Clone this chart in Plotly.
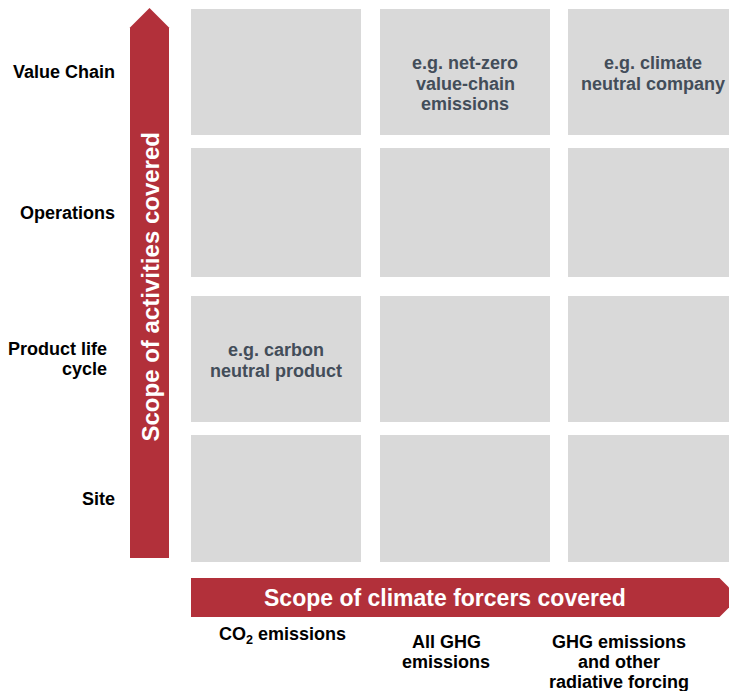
import plotly.graph_objects as go

# ---------------- data ----------------
activity_scopes = ["Value Chain", "Operations", "Product life<br>cycle", "Site"]
forcer_scopes = ["CO<sub>2</sub> emissions", "All GHG<br>emissions",
                 "GHG emissions<br>and other<br>radiative forcing"]
example_rows = [0, 0, 2]
example_cols = [1, 2, 0]
example_texts = ["e.g. net-zero<br>value-chain<br>emissions",
                 "e.g. climate<br>neutral company",
                 "e.g. carbon<br>neutral product"]
y_arrow_title = "Scope of activities covered"
x_arrow_title = "Scope of climate forcers covered"

# ---------------- layout geometry (pixels of the window) ----------------
W, H = 729, 691
col_left = [191, 380, 568]
col_right = [361, 550, 737]
row_top = [9, 148, 296, 435]
row_bottom = [135, 277, 422, 562]
row_label_right = [117, 117, 109, 117]
bottom_label_x = [282, 446, 619]
bottom_label_y0 = [635, 641.5, 641.5]
LINE = 20.5
BOTTOM_LINE = 20

RED = "#B2303A"
GRAY = "#D9D9D9"
CELL_TXT = "#434D59"
FONT = "Arial, Liberation Sans, sans-serif"

fig = go.Figure()
shapes = []
annotations = []

# grid cells
for r in range(len(activity_scopes)):
    for c in range(len(forcer_scopes)):
        shapes.append(dict(type="rect", xref="x", yref="y",
                           x0=col_left[c], x1=col_right[c],
                           y0=row_top[r], y1=row_bottom[r],
                           fillcolor=GRAY, line=dict(width=0), layer="below"))

# vertical arrow
vx0, vx1, vtop, vbot = 130, 169, 8, 558
vmid = (vx0 + vx1) / 2
shapes.append(dict(type="path", xref="x", yref="y",
                   path=f"M{vx0},{vbot} L{vx0},{vtop + 19.5} L{vmid},{vtop} "
                        f"L{vx1},{vtop + 19.5} L{vx1},{vbot} Z",
                   fillcolor=RED, line=dict(width=0)))
# horizontal arrow
hx0, hx1, htop, hbot = 191, 739, 578, 617
hmid = (htop + hbot) / 2
shapes.append(dict(type="path", xref="x", yref="y",
                   path=f"M{hx0},{htop} L{hx1 - 19.5},{htop} L{hx1},{hmid} "
                        f"L{hx1 - 19.5},{hbot} L{hx0},{hbot} Z",
                   fillcolor=RED, line=dict(width=0)))

def add_lines(text, x, y_first, xanchor, color, size=18, step=LINE):
    for i, line in enumerate(text.split("<br>")):
        annotations.append(dict(x=x, y=y_first + i * step, xref="x", yref="y",
                                text=line, showarrow=False, xanchor=xanchor,
                                yanchor="middle",
                                font=dict(family=FONT, size=size, color=color,
                                          weight="bold")))

# row labels
for r, lab in enumerate(activity_scopes):
    n = len(lab.split("<br>"))
    cy = (row_top[r] + row_bottom[r]) / 2
    add_lines(lab, row_label_right[r], cy - (n - 1) * LINE / 2, "right", "#000000")

# bottom labels
for c, lab in enumerate(forcer_scopes):
    add_lines(lab, bottom_label_x[c], bottom_label_y0[c], "center", "#000000",
              step=BOTTOM_LINE)

# example texts in cells
for r, c, t in zip(example_rows, example_cols, example_texts):
    add_lines(t, (col_left[c] + col_right[c]) / 2, row_top[r] + 54, "center", CELL_TXT)

# arrow titles
annotations.append(dict(x=150, y=287.5, xref="x", yref="y", text=y_arrow_title,
                        showarrow=False, textangle=-90,
                        font=dict(family=FONT, size=24, color="white", weight="bold")))
annotations.append(dict(x=445, y=hmid, xref="x", yref="y", text=x_arrow_title,
                        showarrow=False,
                        font=dict(family=FONT, size=23, color="white", weight="bold")))

fig.update_layout(
    width=W, height=H,
    margin=dict(l=0, r=0, t=0, b=0),
    paper_bgcolor="white", plot_bgcolor="white",
    xaxis=dict(range=[0, W], visible=False, fixedrange=True),
    yaxis=dict(range=[H, 0], visible=False, fixedrange=True),
    shapes=shapes, annotations=annotations, showlegend=False,
)
fig.write_html(
    "out.html",
    config={"displayModeBar": False},
    post_script="document.body.style.margin='0';"
                "document.body.style.overflow='hidden';",
)
